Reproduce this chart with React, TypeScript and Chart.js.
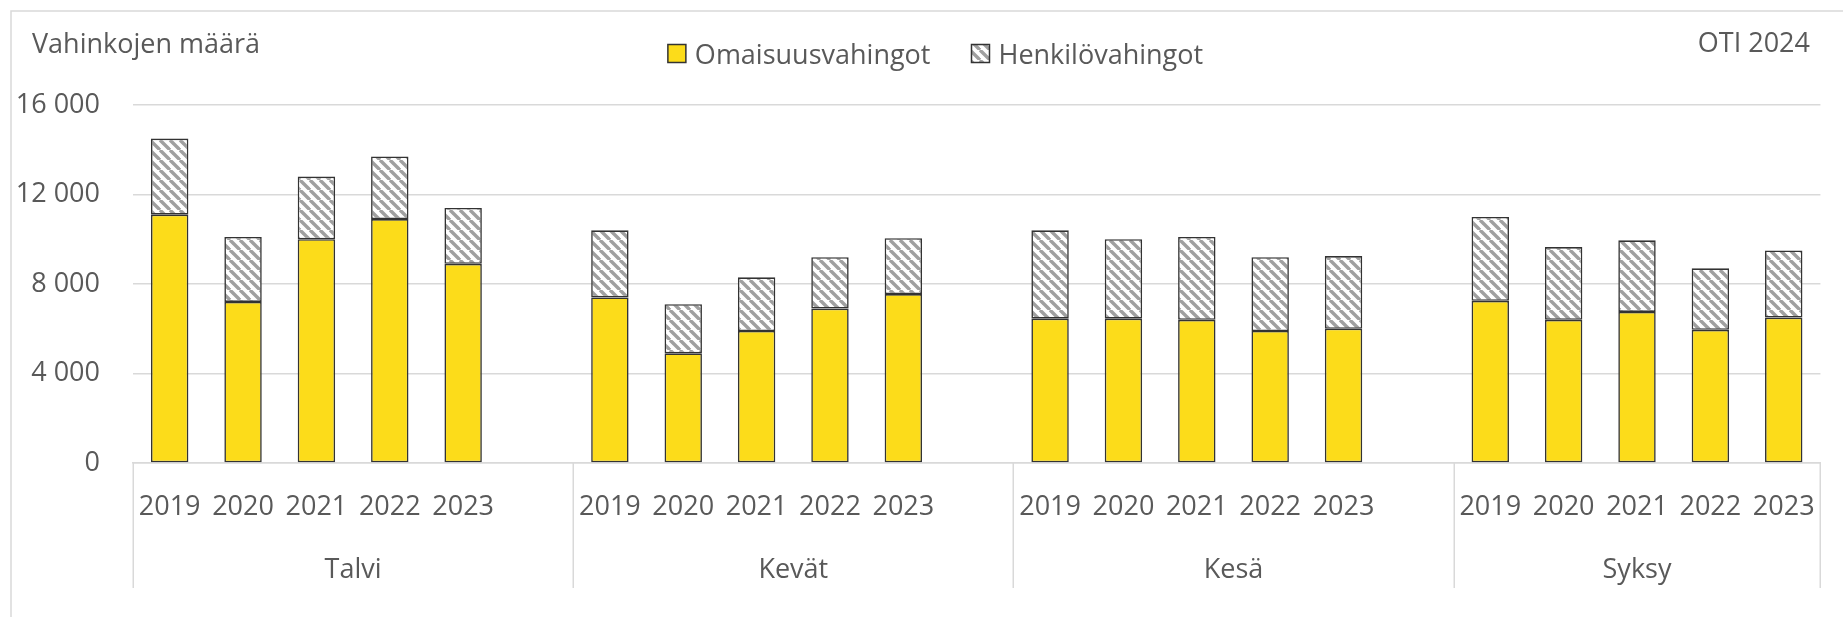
import React, { useEffect, useRef } from 'react';
import { Chart, registerables } from 'chart.js';

Chart.register(...registerables);

// ---- data ----
const seasons = ['Talvi', 'Kevät', 'Kesä', 'Syksy'];
const years = ['2019', '2020', '2021', '2022', '2023'];
const omaisuusTalvi = [11100, 7200, 10000, 10900, 8900];
const omaisuusKevat = [7400, 4900, 5900, 6900, 7550];
const omaisuusKesa = [6450, 6450, 6400, 5900, 6000];
const omaisuusSyksy = [7250, 6400, 6750, 5950, 6500];
const henkiloTalvi = [3400, 2900, 2800, 2800, 2500];
const henkiloKevat = [3000, 2200, 2400, 2300, 2500];
const henkiloKesa = [3950, 3550, 3700, 3300, 3250];
const henkiloSyksy = [3750, 3250, 3200, 2750, 3000];
const yTicks = [0, 4000, 8000, 12000, 16000];
const seriesNames = ['Omaisuusvahingot', 'Henkilövahingot'];
const titleText = 'Vahinkojen määrä';
const sourceText = 'OTI 2024';

const omaisuusBySeason = [omaisuusTalvi, omaisuusKevat, omaisuusKesa, omaisuusSyksy];
const henkiloBySeason = [henkiloTalvi, henkiloKevat, henkiloKesa, henkiloSyksy];

// ---- style ----
const FONT = "'Open Sans', 'Noto Sans', sans-serif";
const TEXT = '#595959';
const GRID = '#d9d9d9';
const YELLOW = '#FCDC1A';
const OUTLINE = '#333333';

function buildTable() {
  const labels: string[] = [];
  const omaisuus: (number | null)[] = [];
  const henkilo: (number | null)[] = [];
  const groups: { name: string; start: number; count: number }[] = [];
  seasons.forEach((s, i) => {
    const start = labels.length;
    years.forEach((y, j) => {
      labels.push(y);
      omaisuus.push(omaisuusBySeason[i][j]);
      henkilo.push(henkiloBySeason[i][j]);
    });
    if (i < seasons.length - 1) {
      labels.push('');
      omaisuus.push(null);
      henkilo.push(null);
    }
    groups.push({ name: s, start, count: labels.length - start });
  });
  return { labels, omaisuus, henkilo, groups };
}

function makeHatch(): CanvasPattern | string {
  const s = 10;
  const c = document.createElement('canvas');
  c.width = s;
  c.height = s;
  const g = c.getContext('2d');
  if (!g) return '#ccc';
  g.fillStyle = '#ffffff';
  g.fillRect(0, 0, s, s);
  g.strokeStyle = '#a0a0a0';
  g.lineWidth = 3.4;
  for (const k of [-s, 0, s]) {
    g.beginPath();
    g.moveTo(k, 0);
    g.lineTo(k + s, s);
    g.stroke();
  }
  return g.createPattern(c, 'repeat') || '#ccc';
}

const fmt = (v: number) => String(v).replace(/\B(?=(\d{3})+(?!\d))/g, ' ');

export default function App() {
  const ref = useRef<HTMLCanvasElement | null>(null);

  useEffect(() => {
    const canvas = ref.current;
    if (!canvas) return;
    document.body.style.overflow = 'hidden';
    const { labels, omaisuus, henkilo, groups } = buildTable();
    const hatch = makeHatch();

    const decor = {
      id: 'decor',
      afterDraw(chart: any) {
        const ctx = chart.ctx as CanvasRenderingContext2D;
        const area = chart.chartArea;
        const xs = chart.scales.x;
        ctx.save();
        // outer frame
        ctx.strokeStyle = GRID;
        ctx.lineWidth = 1.5;
        ctx.beginPath();
        ctx.moveTo(11, 617);
        ctx.lineTo(11, 11);
        ctx.lineTo(1843, 11);
        ctx.stroke();

        // title + source
        ctx.fillStyle = TEXT;
        ctx.font = `27px ${FONT}`;
        ctx.textBaseline = 'alphabetic';
        ctx.textAlign = 'left';
        ctx.fillText(titleText, 32, 53);
        ctx.textAlign = 'right';
        ctx.fillText(sourceText, 1810, 52);

        // legend
        ctx.textAlign = 'left';
        const box = 18;
        const gapText = 9;
        const gapItem = 41;
        const w0 = ctx.measureText(seriesNames[0]).width;
        const w1 = ctx.measureText(seriesNames[1]).width;
        const total = box + gapText + w0 + gapItem + box + gapText + w1;
        let lx = 935.5 - total / 2;
        const by = 44.5;
        const fills = [YELLOW, hatch];
        [w0, w1].forEach((w, i) => {
          ctx.fillStyle = fills[i] as any;
          ctx.fillRect(lx, by, box, box);
          ctx.strokeStyle = OUTLINE;
          ctx.lineWidth = 1.5;
          ctx.strokeRect(lx, by, box, box);
          ctx.fillStyle = TEXT;
          ctx.fillText(seriesNames[i], lx + box + gapText, 64);
          lx += box + gapText + w + gapItem;
        });

        // multi-level category axis
        const slot = xs.getPixelForValue(1) - xs.getPixelForValue(0);
        const bottomLine = 588;
        ctx.strokeStyle = GRID;
        ctx.lineWidth = 1.5;
        const edges: number[] = [];
        groups.forEach((g, i) => {
          edges.push(i === 0 ? area.left : xs.getPixelForValue(g.start) - slot / 2);
        });
        edges.push(area.right);
        edges.forEach((x) => {
          const xx = Math.round(x) + 0.25;
          ctx.beginPath();
          ctx.moveTo(xx, area.bottom);
          ctx.lineTo(xx, bottomLine);
          ctx.stroke();
        });
        ctx.fillStyle = TEXT;
        ctx.textAlign = 'center';
        groups.forEach((g, i) => {
          const cx = (edges[i] + edges[i + 1]) / 2;
          ctx.fillText(g.name, cx, 578);
        });
        ctx.restore();
      },
    };

    const chart = new Chart(canvas, {
      type: 'bar',
      data: {
        labels,
        datasets: [
          {
            label: seriesNames[0],
            data: omaisuus,
            backgroundColor: YELLOW,
            borderColor: OUTLINE,
            borderWidth: 1.6,
            borderSkipped: false,
            categoryPercentage: 1,
            barPercentage: 0.51,
          },
          {
            label: seriesNames[1],
            data: henkilo,
            backgroundColor: hatch as any,
            borderColor: OUTLINE,
            borderWidth: 1.6,
            borderSkipped: false,
            categoryPercentage: 1,
            barPercentage: 0.51,
          },
        ],
      },
      options: {
        responsive: false,
        animation: false,
        devicePixelRatio: 1,
        layout: { padding: { top: 105, right: 18, bottom: 0, left: 0 } },
        plugins: {
          legend: { display: false },
          tooltip: { enabled: false },
          title: { display: false },
        },
        scales: {
          x: {
            stacked: true,
            grid: { display: false, drawTicks: false },
            border: { display: true, color: GRID, width: 1.5 },
            ticks: {
              autoSkip: false,
              maxRotation: 0,
              minRotation: 0,
              padding: 28,
              color: TEXT,
              font: { family: FONT, size: 27 },
            },
            afterFit: (s: any) => {
              s.height = 154;
            },
          },
          y: {
            stacked: true,
            min: 0,
            max: 16000,
            afterBuildTicks: (s: any) => {
              s.ticks = yTicks.map((v) => ({ value: v }));
            },
            grid: { color: GRID, lineWidth: 1.5, drawTicks: false },
            border: { display: false },
            ticks: {
              padding: 33,
              color: TEXT,
              font: { family: FONT, size: 27 },
              callback: (v: any) => fmt(Number(v)),
            },
            afterFit: (s: any) => {
              s.width = 133;
            },
          },
        },
      },
      plugins: [decor],
    });

    return () => {
      chart.destroy();
    };
  }, []);

  return (
    <div
      style={{
        position: 'absolute',
        left: 0,
        top: 0,
        width: 1843,
        height: 617,
        background: '#ffffff',
        overflow: 'hidden',
      }}
    >
      <canvas ref={ref} width={1843} height={617} style={{ display: 'block' }} />
    </div>
  );
}
